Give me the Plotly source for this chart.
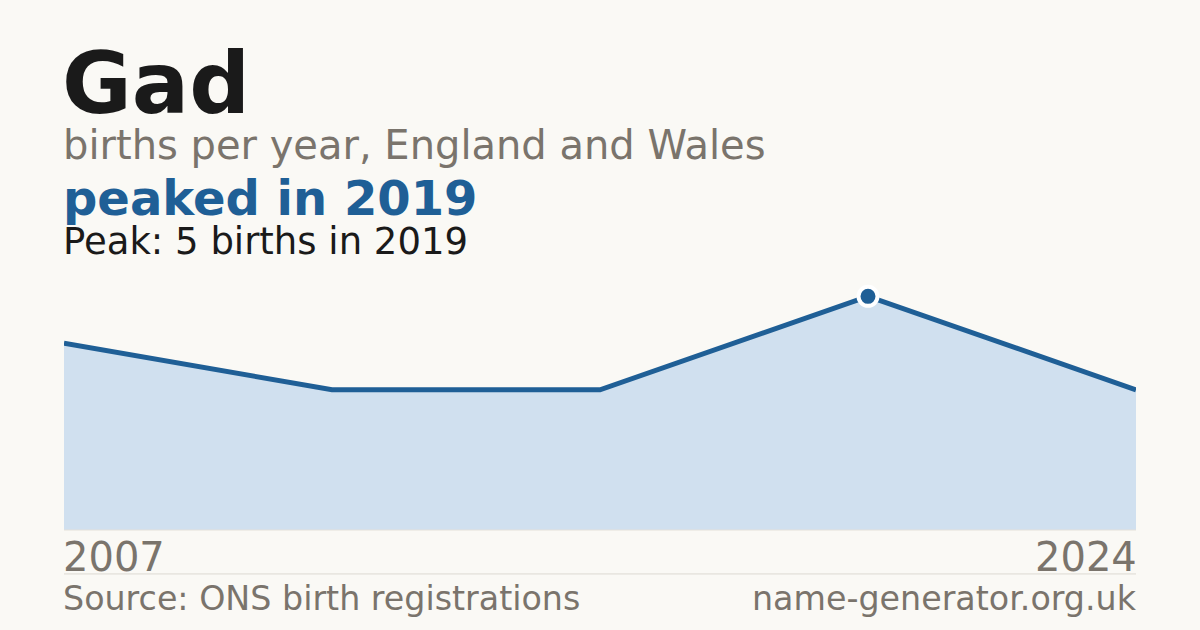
import plotly.graph_objects as go

# data
years = ["2007", "2011", "2015", "2019", "2024"]
births = [4, 3, 3, 5, 3]
peak_year = "2019"
peak_births = 5

name = "Gad"
subtitle = "births per year, England and Wales"
headline = "peaked in 2019"
peak_text = f"Peak: {peak_births} births in {peak_year}"
source = "Source: ONS birth registrations"
site = "name-generator.org.uk"

BG = "#faf9f5"
BLUE = "#1f5f96"
FILL = "#d0e0ef"
GREY = "#7a746c"
INK = "#1a1a1a"
FONT = "DejaVu Sans"

xs = list(range(len(years)))
peak_i = years.index(peak_year)

fig = go.Figure()
fig.add_trace(
    go.Scatter(
        x=xs,
        y=births,
        mode="lines",
        fill="tozeroy",
        fillcolor=FILL,
        line=dict(color=BLUE, width=5),
        hoverinfo="skip",
    )
)
fig.add_trace(
    go.Scatter(
        x=[xs[peak_i]],
        y=[births[peak_i]],
        mode="markers",
        marker=dict(size=19, color=BLUE, line=dict(color="white", width=4)),
        cliponaxis=False,
        hoverinfo="skip",
    )
)

ymax = 5.5
plot_top, plot_bot = 272.6, 530
fig.update_layout(
    width=1200,
    height=630,
    paper_bgcolor=BG,
    plot_bgcolor=BG,
    showlegend=False,
    font=dict(family=FONT, color=INK),
    margin=dict(l=64, r=64, t=plot_top, b=630 - plot_bot),
    xaxis=dict(range=[0, len(years) - 1], visible=False, fixedrange=True),
    yaxis=dict(range=[0, ymax], visible=False, fixedrange=True),
)


# place text by pixel position on the 1200x630 canvas
def py(px):
    return (plot_bot - px) / (plot_bot - plot_top)


def px_x(px):
    return (px - 64) / (1136 - 64)


def text(s, x, y, size, color, bold=False, anchor="left"):
    fig.add_annotation(
        text=f"<b>{s}</b>" if bold else s,
        xref="paper",
        yref="paper",
        x=px_x(x),
        y=py(y),
        xanchor=anchor,
        yanchor="bottom",
        showarrow=False,
        font=dict(size=size, color=color, family=FONT),
    )


text(name, 60, 134, 85, INK, bold=True)
text(subtitle, 61, 169, 40, GREY)
text(headline, 61, 228, 48, BLUE, bold=True)
text(peak_text, 61, 265, 37, INK)
text(years[0], 61, 582, 40, GREY)
text(years[-1], 1139, 582, 40, GREY, anchor="right")
text(source, 61, 620, 33.3, GREY)
text(site, 1139, 620, 33.3, GREY, anchor="right")

fig.add_shape(
    type="line", xref="paper", yref="paper",
    x0=0, x1=1, y0=py(574), y1=py(574),
    line=dict(color="#dcd9d2", width=1),
)
fig.add_shape(
    type="line", xref="paper", yref="paper",
    x0=0, x1=1, y0=0, y1=0,
    line=dict(color="#e4e1da", width=1),
)

fig.write_html(
    "out.html",
    config={"displayModeBar": False},
    post_script="document.body.style.margin='0';document.body.style.background='#faf9f5';",
)
